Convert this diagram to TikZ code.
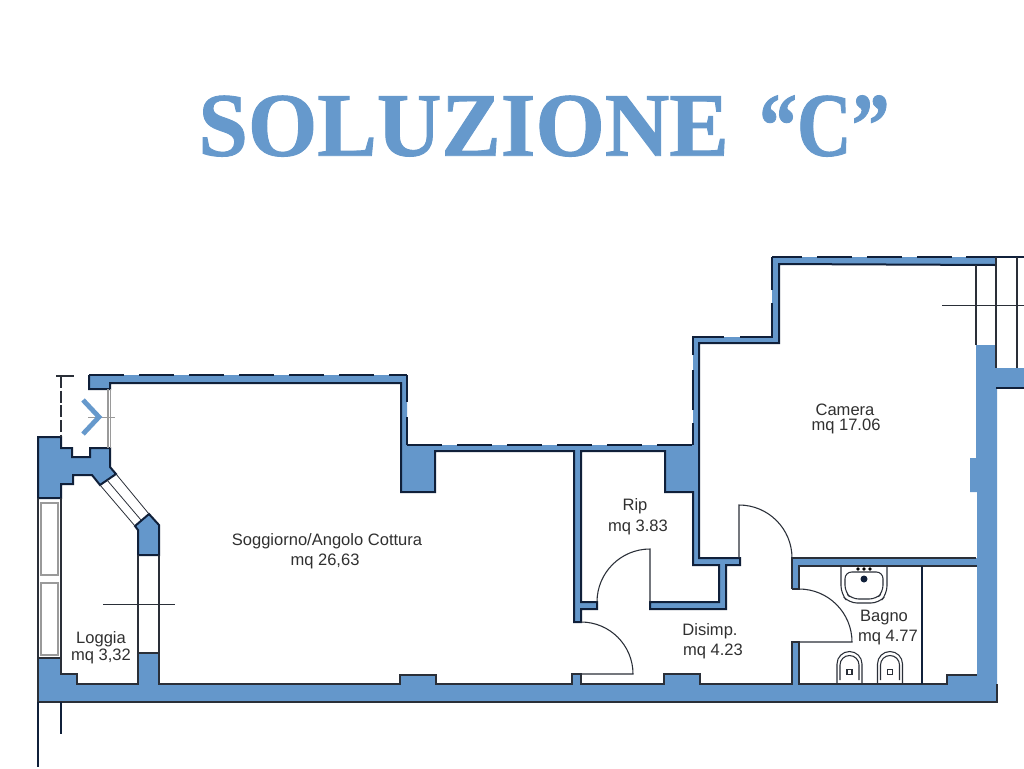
\documentclass[tikz,border=0pt]{standalone}
\usepackage{graphicx}
\usepackage{fontspec}
\setmainfont{Liberation Sans}
\newfontfamily\titlefont[BoldFeatures={FakeBold=1}]{Liberation Serif}
\definecolor{wallblue}{HTML}{6497CB}
\definecolor{titleblue}{HTML}{6699CC}
\definecolor{ink}{HTML}{10203A}
\definecolor{thin}{HTML}{2A2F38}
\definecolor{greyline}{HTML}{9A9A9A}
\definecolor{labelc}{HTML}{303030}
\tikzset{
  wallfill/.style={fill=wallblue,draw=none},
  heavy/.style={draw=ink,line width=1.5pt,line join=miter},
  outerdash/.style={draw=ink,line width=1.5pt,dash pattern=on 26.25pt off 11.25pt},
  outerseg/.style={draw=ink,line width=1.5pt},
  light/.style={draw=thin,line width=0.8pt},
  fine/.style={draw=thin,line width=0.6pt},
  grey/.style={draw=greyline,line width=0.9pt},
  room/.style={text=labelc,font=\fontsize{12.4}{14}\selectfont,inner sep=0pt,yshift=-1.1pt},
}
\begin{document}
\begin{tikzpicture}[x=0.75pt,y=-0.75pt]
\useasboundingbox (0,0) rectangle (1024,768);
\fill[white] (0,0) rectangle (1024,768);
% title
\node[text=titleblue,font=\titlefont\bfseries\fontsize{68}{80}\selectfont,xscale=0.984,inner sep=0pt] (title) at (544,126) {SOLUZIONE\hspace{6pt} \scalebox{0.85}[1]{“C”}};
% north walls
\path[wallfill] (89,375)--(407,375)--(407,445)--(693,445)--(693,337)--(772,337)--(772,257)--(996,257)--(996,265)--(779,264)--(779,343)--(699,343)--(699,558)--(740,558)--(740,565)--(726,565)--(726,609)--(650,609)--(650,602)--(719,602)--(719,565)--(693,565)--(693,492)--(665,492)--(665,451)--(581,451)--(581,602)--(597,602)--(597,609)--(581,609)--(581,622)--(574,622)--(574,451)--(435,451)--(435,492)--(401,492)--(401,383)--(110,383)--(110,389)--(89,389)--cycle;
% south and east walls
\path[wallfill] (38,658)--(61,658)--(61,674)--(77,674)--(77,684)--(138,684)--(138,653)--(159,653)--(159,684)--(400,684)--(400,675)--(436,675)--(436,684)--(572,684)--(572,674)--(581,674)--(581,684)--(664,684)--(664,674)--(700,674)--(700,684)--(792,684)--(792,642)--(799,642)--(799,684)--(947,684)--(947,675)--(977,675)--(977,566)--(799,566)--(799,589)--(792,589)--(792,558)--(977,558)--(977,492)--(970,492)--(970,458)--(976,458)--(976,345)--(996,345)--(996,368)--(1024,368)--(1024,388)--(997,388)--(997,702)--(38,702)--cycle;
% piers
\path[wallfill] (38,437)--(61,437)--(61,448)--(72,448)--(72,457)--(90,457)--(90,448)--(110,448)--(110,467)--(116,474)--(100,485)--(92,475)--(73,475)--(73,484)--(61,484)--(61,498)--(38,498)--cycle;
\path[wallfill] (149,514)--(159,525)--(159,555)--(138,555)--(138,530)--(135,526)--cycle;
% heavy wall edges
\draw[heavy] (996,265)--(779,264)--(779,343)--(699,343)--(699,558)--(740,558)--(740,565)--(726,565)--(726,609)--(650,609)--(650,602)--(719,602)--(719,565)--(693,565)--(693,492)--(665,492)--(665,451)--(581,451)--(581,602)--(597,602)--(597,609)--(581,609)--(581,622)--(574,622)--(574,451)--(435,451)--(435,492)--(401,492)--(401,383)--(110,383)--(110,389)--(89,389)--(89,375);
\draw[heavy] (38,498)--(38,437)--(61,437)--(61,448)--(72,448)--(72,457)--(90,457)--(90,448)--(110,448)--(110,467)--(116,474)--(100,485)--(92,475)--(73,475)--(73,484)--(61,484)--(61,498)--cycle;
\draw[heavy] (135,526)--(149,514)--(159,525)--(159,555)--(138,555)--(138,530)--cycle;
% dashed outer wall
\draw[outerdash] (89,375)--(407,375);
\draw[outerseg] (407,375)--(407,402) (407,417)--(407,445);
\draw[outerdash] (407,445)--(693,445);
\draw[outerseg] (693,445)--(693,423) (693,410)--(693,370) (693,355)--(693,337)--(724,337) (740,337)--(772,337)--(772,303) (772,290)--(772,257);
\draw[outerdash,dash phase=3.75pt] (772,257)--(966,257);
\draw[outerseg] (966,257)--(1024,257);
% south wall edges
\draw[light] (38,658)--(61,658)--(61,674)--(77,674)--(77,684)--(138,684)--(138,653)--(159,653)--(159,684)--(400,684)--(400,675)--(436,675)--(436,684)--(572,684)--(572,674)--(581,674)--(581,684)--(664,684)--(664,674)--(700,674)--(700,684)--(792,684)--(792,642)--(799,642)--(799,684)--(947,684)--(947,675)--(977,675);
\draw[light] (38,658)--(38,702)--(997,702)--(997,684);
\draw[light] (792,589)--(792,558)--(976,558) (977,566)--(799,566)--(799,589)--(792,589);
\draw[heavy] (996,388)--(1024,388);
% free lines below the plan
\draw[heavy,line width=1.2pt] (38,702)--(38,767) (61,702)--(61,734);
% entry: dashed outline and arrow
\draw[light] (56,376)--(74,376);
\draw[light,dash pattern=on 9pt off 2pt] (61,376)--(61,437);
\draw[grey] (108,389)--(108,448) (110.5,389)--(110.5,448);
\draw[grey,line width=0.5pt] (88,417)--(115,417);
\draw[draw=titleblue,line width=3.6pt] (83,400)--(99,417)--(83,434);
% diagonal window
\draw[fine] (116,474)--(149,514) (107,480)--(141,520) (100,485)--(135,526);
% loggia columns
\draw[light] (138,555)--(138,653) (159,555)--(159,653);
\draw[fine] (103,604)--(175,604);
% left window
\draw[light] (38,498)--(38,658) (61,498)--(61,658);
\draw[grey,line width=1.2pt] (41,503) rectangle (58,575) (41,583) rectangle (58,655);
% stairs
\draw[light] (976,265)--(976,345) (996,257)--(996,368) (1017,257)--(1017,368);
\draw[fine] (942,305)--(1024,305);
% doors
\draw[light] (650,602)--(650,549) arc[start angle=-90,end angle=-180,radius=53];
\draw[light] (581,622) arc[start angle=-90,end angle=0,radius=52]--(581,674);
\draw[light] (739,558)--(739,505) arc[start angle=-90,end angle=0,radius=53];
\draw[light] (799,589) arc[start angle=-90,end angle=0,radius=53]--(799,642);
% partition
\draw[heavy,line width=1pt] (922,566)--(922,684);
% sink
\draw[light,rounded corners=6pt] (841,566)--(841,594)--(849,603)--(879,603)--(887,594)--(887,566);
\draw[light,rounded corners=5pt] (845,572)--(883,572)--(883,592)--(876,599)--(852,599)--(845,592)--cycle;
\fill[ink] (864,579) circle[radius=3.5];
\fill[thin] (858,569) circle[radius=1.8] (864,569) circle[radius=1.8] (870,569) circle[radius=1.8];
% bidets
\foreach \bx in {849.5,890}{
  \draw[light] (\bx-12.5,684)--(\bx-12.5,664) arc[start angle=180,end angle=360,radius=12.5]--(\bx+12.5,684);
  \draw[light] (\bx-9.5,680)--(\bx-9.5,665) arc[start angle=180,end angle=360,radius=9.5]--(\bx+9.5,680);
  \draw[light] (\bx-2.5,669.5) rectangle (\bx+2.5,674.5);
}
% labels
\node[room] (camera) at (845,408) {Camera};
\node[room] (cameramq) at (846,425) {mq 17.06};
\node[room] (rip) at (635,505) {Rip};
\node[room] (ripmq) at (638,526) {mq 3.83};
\node[room] (soggiorno) at (327,540) {Soggiorno/Angolo Cottura};
\node[room] (soggiornomq) at (325,560) {mq 26,63};
\node[room] (disimp) at (710,630) {Disimp.};
\node[room] (disimpmq) at (713,650) {mq 4.23};
\node[room] (bagno) at (884,616) {Bagno};
\node[room] (bagnomq) at (888,636) {mq 4.77};
\node[room] (loggia) at (101,638) {Loggia};
\node[room] (loggiamq) at (101,655) {mq 3,32};
\end{tikzpicture}
\end{document}
